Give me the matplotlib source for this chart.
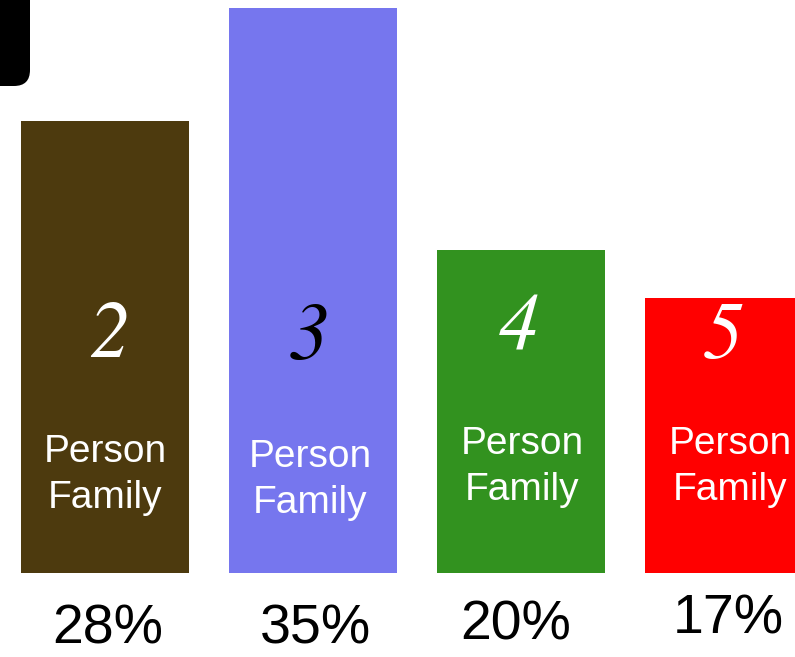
import matplotlib
matplotlib.use("Agg")
import matplotlib.pyplot as plt
from matplotlib.patches import FancyBboxPatch

# ---- data ----
family_sizes = ["2", "3", "4", "5"]
shares = [28, 35, 20, 17]
bar_colors = ["#4D3A0E", "#7676EE", "#32921F", "#FF0000"]
digit_colors = ["white", "black", "white", "white"]
label_text = "Person\nFamily"

# ---- layout (pixel-based placement of annotations) ----
W, H = 795, 657
base_px = 573          # pixel row of bar baseline
px_per_unit = 16.15    # pixels per percentage point
digit_y_px = [338, 340, 331, 340]
digit_dx = [0.02, -0.02, -0.01, -0.03]
label_y_px = [475, 480, 467, 467]
label_dx = [0.0, -0.015, 0.005, 0.005]
pct_y_px = [630, 630, 625, 620]
pct_dx = [0.015, 0.01, -0.025, -0.005]

fig = plt.figure(figsize=(W / 100, H / 100), dpi=100)
ax = fig.add_axes([0, 0, 1, 1])
x = list(range(len(shares)))
pitch = 208.0
ax.bar(x, shares, width=168 / pitch, color=bar_colors, edgecolor='none')
ax.set_xlim(-105 / pitch, 3 + (W - 729) / pitch)
ax.set_ylim(-(H - base_px) / px_per_unit, base_px / px_per_unit)
ax.axis('off')

def py2d(py):
    return (base_px - py) / px_per_unit

for i, (lab, v) in enumerate(zip(family_sizes, shares)):
    ax.text(i + digit_dx[i], py2d(digit_y_px[i]), lab,
            ha='center', va='center', fontsize=58, color=digit_colors[i],
            family='STIXGeneral', style='italic')
    ax.text(i + label_dx[i], py2d(label_y_px[i]), label_text,
            ha='center', va='center', fontsize=28, color='white',
            family='Liberation Sans', linespacing=1.38)
    ax.text(i + pct_dx[i], py2d(pct_y_px[i]), f"{v}%",
            ha='center', va='center', fontsize=40, color='black',
            family='Liberation Sans')

# black rounded tab in the top-left corner
tab = FancyBboxPatch((-20, H - 86), 50, 120,
                     boxstyle="round,pad=0,rounding_size=16",
                     transform=None, facecolor='black', edgecolor='none')
fig.patches.append(tab)

fig.savefig("out.png", dpi=100)
